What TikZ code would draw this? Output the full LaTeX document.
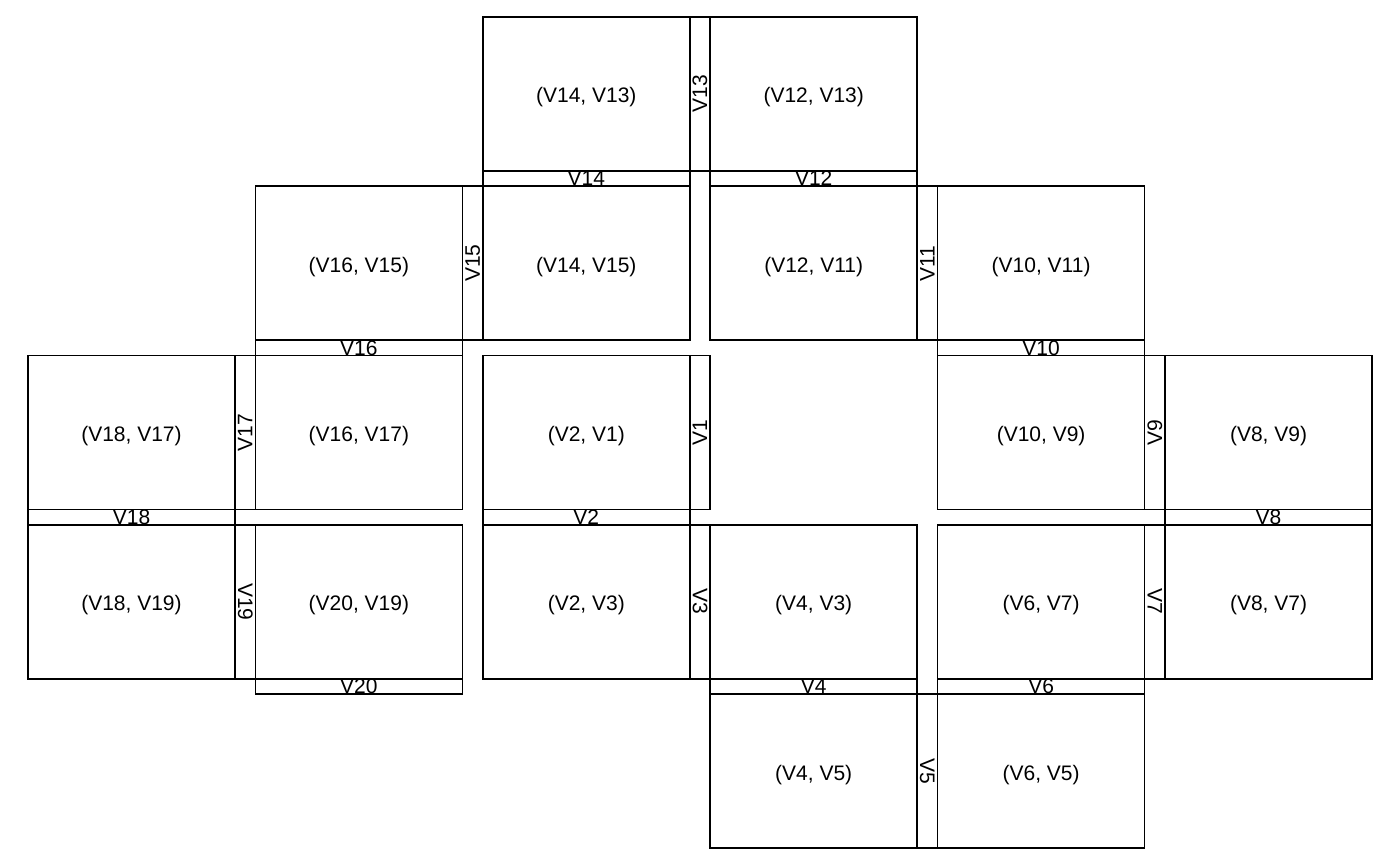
\documentclass[tikz,border=0pt]{standalone}
\usepackage{fontspec}
\setmainfont{Liberation Sans}
\begin{document}
\begin{tikzpicture}[x=0.5pt,y=-0.5pt,
  every node/.style={font=\fontsize{10.5}{12}\selectfont, inner sep=0pt, line width=0.8pt},
  cell/.style={draw, rectangle, minimum width=103.5pt, minimum height=77pt, text height=9pt, text depth=0pt},
  hstrip/.style={draw, rectangle, minimum width=103.5pt, minimum height=7.625pt, text height=7.2pt, text depth=0pt},
  vstrip/.style={draw, rectangle, minimum width=77pt, minimum height=10.25pt, text height=7.2pt, text depth=0pt}]
\useasboundingbox (0,0) rectangle (1400,866);
% row 0
\node[cell] (c14-13) at (586.3,94) {(V14, V13)};
\node[cell] (c12-13) at (813.7,94) {(V12, V13)};
% row 1
\node[cell] (c16-15) at (358.9,263.25) {(V16, V15)};
\node[cell] (c14-15) at (586.3,263.25) {(V14, V15)};
\node[cell] (c12-11) at (813.7,263.25) {(V12, V11)};
\node[cell] (c10-11) at (1041.1,263.25) {(V10, V11)};
% row 2
\node[cell] (c18-17) at (131.5,432.5) {(V18, V17)};
\node[cell] (c16-17) at (358.9,432.5) {(V16, V17)};
\node[cell] (c2-1) at (586.3,432.5) {(V2, V1)};
\node[cell] (c10-9) at (1041.1,432.5) {(V10, V9)};
\node[cell] (c8-9) at (1268.5,432.5) {(V8, V9)};
% row 3
\node[cell] (c18-19) at (131.5,601.75) {(V18, V19)};
\node[cell] (c20-19) at (358.9,601.75) {(V20, V19)};
\node[cell] (c2-3) at (586.3,601.75) {(V2, V3)};
\node[cell] (c4-3) at (813.7,601.75) {(V4, V3)};
\node[cell] (c6-7) at (1041.1,601.75) {(V6, V7)};
\node[cell] (c8-7) at (1268.5,601.75) {(V8, V7)};
% row 4
\node[cell] (c4-5) at (813.7,771) {(V4, V5)};
\node[cell] (c6-5) at (1041.1,771) {(V6, V5)};
% horizontal strips
\node[hstrip] (s14) at (586.3,178.6) {V14};
\node[hstrip] (s12) at (813.7,178.6) {V12};
\node[hstrip] (s16) at (358.9,347.9) {V16};
\node[hstrip] (s10) at (1041.1,347.9) {V10};
\node[hstrip] (s18) at (131.5,517.1) {V18};
\node[hstrip] (s2) at (586.3,517.1) {V2};
\node[hstrip] (s8) at (1268.5,517.1) {V8};
\node[hstrip] (s20) at (358.9,686.4) {V20};
\node[hstrip] (s4) at (813.7,686.4) {V4};
\node[hstrip] (s6) at (1041.1,686.4) {V6};
% vertical strips
\node[vstrip, rotate=90] (s13) at (700,94) {V13};
\node[vstrip, rotate=90] (s15) at (472.6,263.25) {V15};
\node[vstrip, rotate=90] (s11) at (927.4,263.25) {V11};
\node[vstrip, rotate=90] (s17) at (245.2,432.5) {V17};
\node[vstrip, rotate=90] (s1) at (700,432.5) {V1};
\node[vstrip, rotate=90] (s9) at (1154.8,432.5) {V9};
\node[vstrip, rotate=-90] (s19) at (245.2,601.75) {V19};
\node[vstrip, rotate=-90] (s3) at (700,601.75) {V3};
\node[vstrip, rotate=-90] (s7) at (1154.8,601.75) {V7};
\node[vstrip, rotate=-90] (s5) at (927.4,771) {V5};
\end{tikzpicture}
\end{document}
